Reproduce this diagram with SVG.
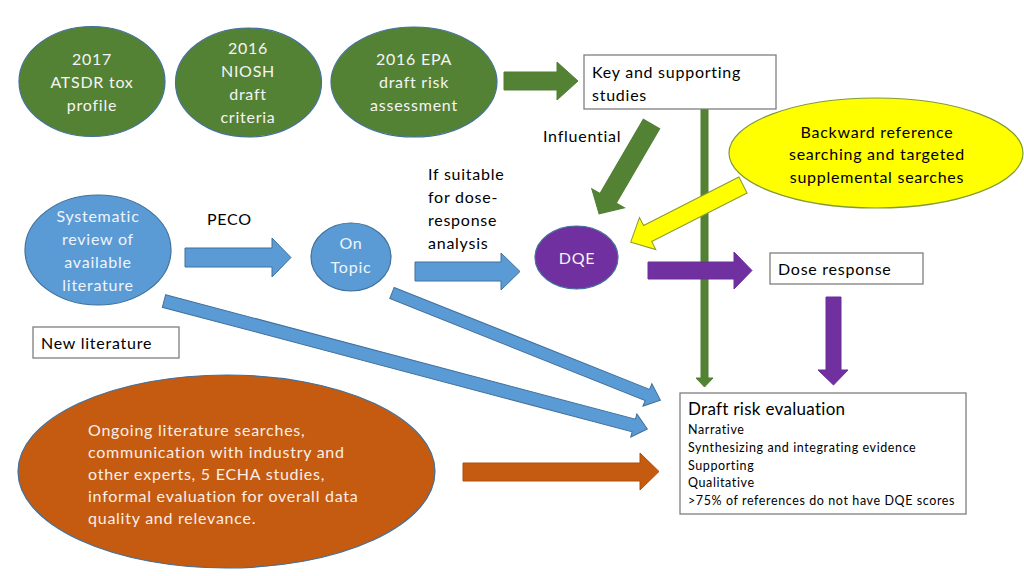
<svg xmlns="http://www.w3.org/2000/svg" width="1024" height="576" viewBox="0 0 1024 576">
<style>
text{font-family:Lato,"Liberation Sans",sans-serif;}
.t16{font-size:16px;letter-spacing:0.75px;}
.ctr{text-anchor:middle;}
.wt{fill:#F4F4F4;}
.bt{fill:#EEF4FB;}
.ot{fill:#FBEFE6;}
.dk{fill:#000;}
.gE{fill:#548235;stroke:#41719C;stroke-width:1.2;}
.bE{fill:#5B9BD5;stroke:#41719C;stroke-width:1.2;}
.pE{fill:#7030A0;stroke:#41719C;stroke-width:1.2;}
.oE{fill:#C55A11;stroke:#41719C;stroke-width:1.2;}
.yE{fill:#FFFF00;stroke:#7F9A3A;stroke-width:1.2;}
.box{fill:#fff;stroke:#7F7F7F;stroke-width:1.3;}
.aG{fill:#548235;stroke:#507E32;stroke-width:1;}
.aB{fill:#5B9BD5;stroke:#41719C;stroke-width:1;}
.aP{fill:#7030A0;stroke:#6A2E98;stroke-width:1;}
.aO{fill:#C55A11;stroke:#AE4E0E;stroke-width:1;}
.aY{fill:#FFFF00;stroke:#8A9A30;stroke-width:1;}
</style>

<g id="connectors">
  <polygon class="aG" points="504,72 557,72 557,62 578,81 557,100 557,90 504,90"/>
  <polygon class="aG" points="701,109 708,109 708,378 713,378 704.5,387 696,378 701,378"/>
  <polygon class="aG" transform="translate(651.5,124) rotate(120.26)" points="0,-9.5 86,-9.5 86,-19 104,0 86,19 86,9.5 0,9.5"/>
  <polygon class="aY" transform="translate(743,185) rotate(153.03)" points="0,-9 107,-9 107,-18 126,0 107,18 107,9 0,9"/>
  <polygon class="aB" points="185,248 272,248 272,238 291,257.5 272,277 272,267 185,267"/>
  <polygon class="aB" points="415,262 501,262 501,253 520,271.5 501,290 501,281 415,281"/>
  <polygon class="aP" points="648,262 734,262 734,252 752,270.5 734,289 734,279 648,279"/>
  <polygon class="aP" points="826,297 841,297 841,370 848,370 833.5,385 818,370 826,370"/>
  <polygon class="aB" transform="translate(392,293) rotate(21.76)" points="0,-6 275,-6 275,-12 289,0 275,12 275,6 0,6"/>
  <polygon class="aB" transform="translate(164,301) rotate(14.84)" points="0,-6.5 486,-6.5 486,-12 500,0 486,12 486,6.5 0,6.5"/>
  <polygon class="aO" points="463,463 640,463 640,453 659,471.5 640,490 640,481 463,481"/>
</g>

<g id="atsdr">
  <ellipse class="gE" cx="92" cy="81.5" rx="73" ry="55"/>
  <text class="t16 ctr wt"><tspan x="92" y="65">2017</tspan><tspan x="92" y="88">ATSDR tox</tspan><tspan x="92" y="111">profile</tspan></text>
</g>
<g id="niosh">
  <ellipse class="gE" cx="248.5" cy="82.5" rx="73" ry="54.5"/>
  <text class="t16 ctr wt"><tspan x="248" y="54">2016</tspan><tspan x="248" y="77">NIOSH</tspan><tspan x="248" y="100">draft</tspan><tspan x="248" y="123">criteria</tspan></text>
</g>
<g id="epa">
  <ellipse class="gE" cx="414" cy="82" rx="83" ry="55"/>
  <text class="t16 ctr wt"><tspan x="414" y="65">2016 EPA</tspan><tspan x="414" y="88">draft risk</tspan><tspan x="414" y="111">assessment</tspan></text>
</g>
<g id="key">
  <rect class="box" x="584" y="55" width="192" height="54"/>
  <text class="t16 dk"><tspan x="592" y="78">Key and supporting</tspan><tspan x="592" y="101">studies</tspan></text>
</g>
<g id="influential-label">
  <text class="t16 dk" x="543" y="142">Influential</text>
</g>
<g id="backward">
  <ellipse class="yE" cx="876" cy="153" rx="147" ry="55"/>
  <text class="t16 ctr dk"><tspan x="877" y="138">Backward reference</tspan><tspan x="877" y="160">searching and targeted</tspan><tspan x="877" y="183">supplemental searches</tspan></text>
</g>
<g id="systematic">
  <ellipse class="bE" cx="98" cy="250" rx="73" ry="55"/>
  <text class="t16 ctr bt"><tspan x="98" y="222">Systematic</tspan><tspan x="98" y="245">review of</tspan><tspan x="98" y="268">available</tspan><tspan x="98" y="291">literature</tspan></text>
</g>
<g id="peco-label">
  <text class="t16 dk" x="207" y="225">PECO</text>
</g>
<g id="ontopic">
  <ellipse class="bE" cx="351" cy="257" rx="40" ry="34"/>
  <text class="t16 ctr bt"><tspan x="351" y="249">On</tspan><tspan x="351" y="273">Topic</tspan></text>
</g>
<g id="suitable-label">
  <text class="t16 dk"><tspan x="428" y="180">If suitable</tspan><tspan x="428" y="203">for dose-</tspan><tspan x="428" y="226">response</tspan><tspan x="428" y="249">analysis</tspan></text>
</g>
<g id="dqe">
  <ellipse class="pE" cx="576.5" cy="257.5" rx="41.5" ry="31.5"/>
  <text class="t16 ctr wt" x="577" y="264">DQE</text>
</g>
<g id="dose">
  <rect class="box" x="770" y="253" width="153" height="31"/>
  <text class="t16 dk" x="778" y="275">Dose response</text>
</g>
<g id="newlit">
  <rect class="box" x="33" y="327" width="146" height="31"/>
  <text class="t16 dk" x="41" y="349">New literature</text>
</g>
<g id="ongoing">
  <ellipse class="oE" cx="226.5" cy="471.5" rx="208.5" ry="96.5"/>
  <text class="t16 ot"><tspan x="88" y="436">Ongoing literature searches,</tspan><tspan x="88" y="458">communication with industry and</tspan><tspan x="88" y="480">other experts, 5 ECHA studies,</tspan><tspan x="88" y="502">informal evaluation for overall data</tspan><tspan x="88" y="524">quality and relevance.</tspan></text>
</g>
<g id="draft">
  <rect class="box" x="680" y="393" width="286" height="121"/>
  <text class="dk" x="688" y="415" style="font-size:17px;letter-spacing:0.3px">Draft risk evaluation</text>
  <text class="dk" style="font-size:12.5px;letter-spacing:0.6px"><tspan x="688" y="434">Narrative</tspan><tspan x="688" y="452">Synthesizing and integrating evidence</tspan><tspan x="688" y="470">Supporting</tspan><tspan x="688" y="487">Qualitative</tspan><tspan x="688" y="505">&gt;75% of references do not have DQE scores</tspan></text>
</g>
</svg>
